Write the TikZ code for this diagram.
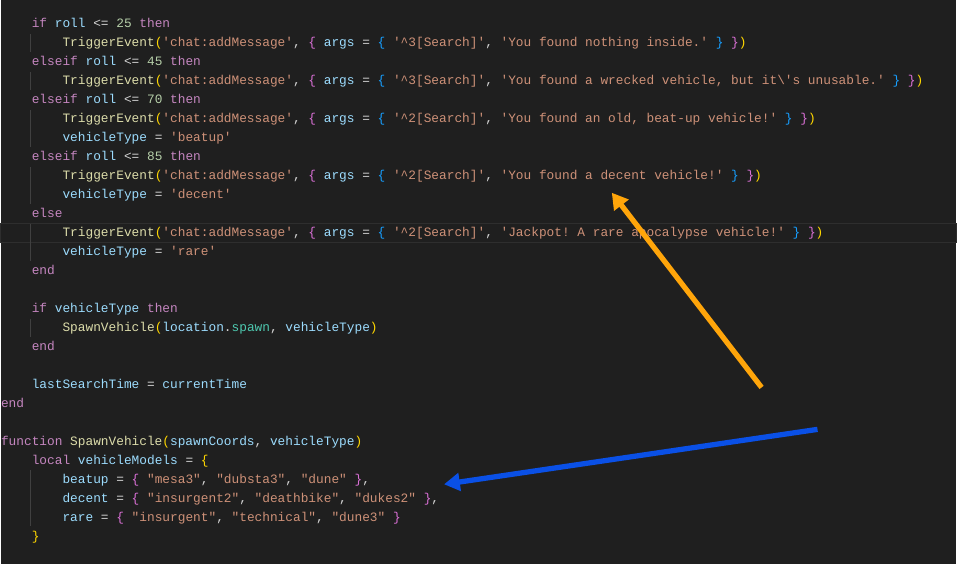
\documentclass[tikz,border=0pt]{standalone}
\usepackage{fontspec}
\usepackage{tikz}
\usetikzlibrary{positioning,arrows.meta}
\newfontfamily\codefont{Liberation Mono}
\frenchspacing
\definecolor{bgcol}{HTML}{1F1F1F}
\definecolor{plain}{HTML}{D4D4D4}
\definecolor{kwcol}{HTML}{C586C0}
\definecolor{varcol}{HTML}{9CDCFE}
\definecolor{fncol}{HTML}{DCDCAA}
\definecolor{strcol}{HTML}{CE9178}
\definecolor{numcol}{HTML}{B5CEA8}
\definecolor{fieldcol}{HTML}{4EC9B0}
\definecolor{parcol}{HTML}{FFD700}
\definecolor{bracol}{HTML}{DA70D6}
\definecolor{bbcol}{HTML}{179FFF}
\definecolor{guidecol}{HTML}{404040}
\definecolor{linecol}{HTML}{2E2E2E}
\definecolor{arrowone}{HTML}{FFA50A}
\definecolor{arrowtwo}{HTML}{0A50E6}
\newcommand{\kw}[1]{\textcolor{kwcol}{#1}}
\newcommand{\vr}[1]{\textcolor{varcol}{#1}}
\newcommand{\fn}[1]{\textcolor{fncol}{#1}}
\newcommand{\st}[1]{\textcolor{strcol}{#1}}
\newcommand{\nm}[1]{\textcolor{numcol}{#1}}
\newcommand{\pa}[1]{\textcolor{parcol}{#1}}
\newcommand{\br}[1]{\textcolor{bracol}{#1}}
\newcommand{\bb}[1]{\textcolor{bbcol}{#1}}
\newcommand{\trig}[2]{\fn{TriggerEvent}\pa{(}\st{'chat:addMessage'}, \br{\{} \vr{args} = \bb{\{} \st{'\textasciicircum#1[Search]'}, \st{'#2'} \bb{\}} \br{\}}\pa{)}}
\newcommand{\codeline}[3]{\node[codeline] (l#1) at ({#2*7.7},{24+19*#1+4}) {#3};}

\begin{document}
\begin{tikzpicture}[x=0.02cm,y=-0.02cm,
    codeline/.style={anchor=base west, inner sep=0pt, font=\codefont\fontsize{7.3pt}{9pt}\selectfont, text=plain},
    guide/.style={guidecol, line width=0.6pt},
    callout/.style={line width=3pt, -{Triangle[length=9pt,width=10pt]}}]
    % background and current line
    \fill[bgcol] (0,0) rectangle (957,565);
    \draw[linecol, line width=0.8pt] (0,224) rectangle (957,243);
    % indent guides
    \foreach \a/\b in {1/1,3/3,5/6,8/9,11/12,16/16,24/26}
        \draw[guide] (30,{24+19*\a-9}) -- (30,{24+19*\b+9});
    % code
    \codeline{0}{4}{\kw{if} \vr{roll} <= \nm{25} \kw{then}}
    \codeline{1}{8}{\trig{3}{You found nothing inside.}}
    \codeline{2}{4}{\kw{elseif} \vr{roll} <= \nm{45} \kw{then}}
    \codeline{3}{8}{\trig{3}{You found a wrecked vehicle, but it\textbackslash's unusable.}}
    \codeline{4}{4}{\kw{elseif} \vr{roll} <= \nm{70} \kw{then}}
    \codeline{5}{8}{\trig{2}{You found an old, beat-up vehicle!}}
    \codeline{6}{8}{\vr{vehicleType} = \st{'beatup'}}
    \codeline{7}{4}{\kw{elseif} \vr{roll} <= \nm{85} \kw{then}}
    \codeline{8}{8}{\trig{2}{You found a decent vehicle!}}
    \codeline{9}{8}{\vr{vehicleType} = \st{'decent'}}
    \codeline{10}{4}{\kw{else}}
    \codeline{11}{8}{\trig{2}{Jackpot! A rare apocalypse vehicle!}}
    \codeline{12}{8}{\vr{vehicleType} = \st{'rare'}}
    \codeline{13}{4}{\kw{end}}
    \codeline{15}{4}{\kw{if} \vr{vehicleType} \kw{then}}
    \codeline{16}{8}{\fn{SpawnVehicle}\pa{(}\vr{location}.\textcolor{fieldcol}{spawn}, \vr{vehicleType}\pa{)}}
    \codeline{17}{4}{\kw{end}}
    \codeline{19}{4}{\vr{lastSearchTime} = \vr{currentTime}}
    \codeline{20}{0}{\kw{end}}
    \codeline{22}{0}{\kw{function} \fn{SpawnVehicle}\pa{(}\vr{spawnCoords}, \vr{vehicleType}\pa{)}}
    \codeline{23}{4}{\kw{local} \vr{vehicleModels} = \pa{\{}}
    \codeline{24}{8}{\vr{beatup} = \br{\{} \st{"mesa3"}, \st{"dubsta3"}, \st{"dune"} \br{\}},}
    \codeline{25}{8}{\vr{decent} = \br{\{} \st{"insurgent2"}, \st{"deathbike"}, \st{"dukes2"} \br{\}},}
    \codeline{26}{8}{\vr{rare} = \br{\{} \st{"insurgent"}, \st{"technical"}, \st{"dune3"} \br{\}}}
    \codeline{27}{4}{\pa{\}}}
    % arrows
    \coordinate (orangetail) at (762,388);
    \coordinate (orangehead) at (612,193);
    \coordinate (bluetail) at (818,430);
    \coordinate (bluehead) at (444,485);
    \draw[callout, arrowone] (orangetail) -- (orangehead);
    \draw[callout, arrowtwo] (bluetail) -- (bluehead);
\end{tikzpicture}
\end{document}
